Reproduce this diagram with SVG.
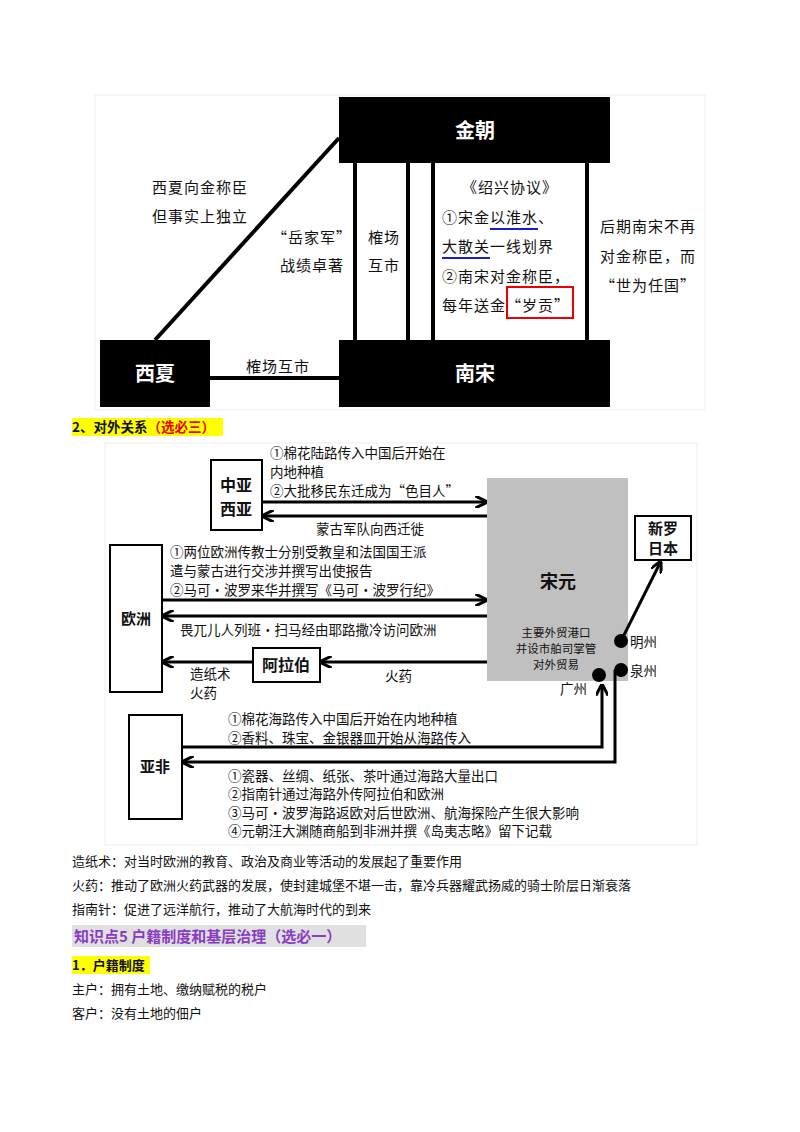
<svg xmlns="http://www.w3.org/2000/svg" width="800" height="1132" viewBox="0 0 800 1132">
<defs>
<marker id="ah" viewBox="0 0 10 10" refX="8" refY="5" markerWidth="4" markerHeight="4" orient="auto-start-reverse"><path d="M0,0 L10,5 L0,10" fill="none" stroke="#000" stroke-width="2.5"/></marker>
</defs>
<style>
text{font-family:"Noto Sans CJK SC","Liberation Sans",sans-serif;fill:#111}
.k{font-size:15px;letter-spacing:1px}
.s{font-size:11.5px}
.w{fill:#fff;font-size:20px;font-weight:bold}
.b{font-weight:bold}
.box{fill:#fff;stroke:#000;stroke-width:2}
.ln{stroke:#000;stroke-width:3;fill:none}
.t{font-size:13.5px}
</style>
<rect width="800" height="1132" fill="#fff"/>
<rect x="95" y="95" width="610" height="315" fill="#fff" stroke="#eee"/>
<g id="jin"><rect x="339" y="97" width="271" height="66" fill="#000"/><text x="475" y="138" text-anchor="middle" class="w">金朝</text></g>
<g id="xixia"><rect x="100" y="340" width="110" height="67" fill="#000"/><text x="155" y="381" text-anchor="middle" class="w">西夏</text></g>
<g id="nansong"><rect x="339" y="340" width="271" height="67" fill="#000"/><text x="475" y="381" text-anchor="middle" class="w">南宋</text></g>
<g id="top-connectors" class="ln">
<line x1="155" y1="340" x2="339" y2="138" stroke-width="4"/>
<line x1="210" y1="378" x2="339" y2="378" stroke-width="4"/>
<line x1="355" y1="163" x2="355" y2="340" stroke-width="4"/>
<line x1="408" y1="163" x2="408" y2="340" stroke-width="4"/>
<line x1="433" y1="163" x2="433" y2="340" stroke-width="4"/>
<line x1="587" y1="163" x2="587" y2="340" stroke-width="4"/>
</g>
<g class="k">
<text x="200" y="193" text-anchor="middle">西夏向金称臣</text>
<text x="200" y="222" text-anchor="middle">但事实上独立</text>
<text x="312" y="243" text-anchor="middle">“岳家军”</text>
<text x="312" y="271" text-anchor="middle">战绩卓著</text>
<text x="384" y="243" text-anchor="middle">榷场</text>
<text x="384" y="271" text-anchor="middle">互市</text>
<text x="510" y="193" text-anchor="middle">《绍兴协议》</text>
<text x="442" y="223">①宋金以淮水、</text>
<text x="442" y="252">大散关一线划界</text>
<text x="442" y="282">②南宋对金称臣，</text>
<text x="442" y="311">每年送金“岁贡”</text>
<text x="648" y="232" text-anchor="middle">后期南宋不再</text>
<text x="648" y="262" text-anchor="middle">对金称臣，而</text>
<text x="648" y="291" text-anchor="middle">“世为任国”</text>
<text x="278" y="372" text-anchor="middle">榷场互市</text>
</g>
<line x1="490" y1="229" x2="538" y2="229" stroke="#1a1ad0" stroke-width="2"/>
<line x1="442" y1="258" x2="490" y2="258" stroke="#1a1ad0" stroke-width="2"/>
<rect x="507" y="287" width="66" height="31" fill="none" stroke="#e00" stroke-width="2"/>

<rect x="72" y="418" width="151" height="18" fill="#ffff00"/>
<text x="72" y="432" font-size="13.5" class="b">2、对外关系<tspan fill="#e00">（选必三）</tspan></text>

<rect x="105" y="443" width="592" height="402" fill="#fff" stroke="#eee"/>
<g id="songyuan"><rect x="487" y="478" width="141" height="203" fill="#c0c0c0"/>
<text x="558" y="588" text-anchor="middle" font-size="18" class="b">宋元</text>
<text x="556" y="637" text-anchor="middle" class="s">主要外贸港口</text>
<text x="556" y="653" text-anchor="middle" class="s">并设市舶司掌管</text>
<text x="556" y="669" text-anchor="middle" class="s">对外贸易</text></g>
<g id="zhongya"><rect x="211" y="460" width="51" height="70" class="box"/><text x="236" y="491" text-anchor="middle" font-size="16" class="b">中亚</text><text x="236" y="515" text-anchor="middle" font-size="16" class="b">西亚</text></g>
<g id="xinluo"><rect x="635" y="516" width="56" height="44" class="box"/><text x="663" y="534" text-anchor="middle" font-size="15" class="b">新罗</text><text x="663" y="554" text-anchor="middle" font-size="15" class="b">日本</text></g>
<g id="ouzhou"><rect x="110" y="545" width="52" height="147" class="box"/><text x="136" y="624" text-anchor="middle" font-size="15" class="b">欧洲</text></g>
<g id="alabo"><rect x="253" y="648" width="67" height="34" class="box"/><text x="286" y="671" text-anchor="middle" font-size="16" class="b">阿拉伯</text></g>
<g id="yafei"><rect x="129" y="715" width="53" height="104" class="box"/><text x="155" y="772" text-anchor="middle" font-size="15" class="b">亚非</text></g>
<g id="ports">
<circle cx="621" cy="641" r="7" fill="#000"/><circle cx="621" cy="670" r="7" fill="#000"/><circle cx="599" cy="675" r="7" fill="#000"/>
<text x="630" y="647" class="t">明州</text><text x="630" y="676" class="t">泉州</text><text x="560" y="694" class="t">广州</text></g>
<g id="connectors" class="ln">
<line x1="262" y1="502" x2="485" y2="502" marker-end="url(#ah)"/>
<line x1="487" y1="516" x2="264" y2="516" marker-end="url(#ah)"/>
<line x1="162" y1="600" x2="485" y2="600" marker-end="url(#ah)"/>
<line x1="487" y1="616" x2="164" y2="616" marker-end="url(#ah)"/>
<line x1="487" y1="662" x2="322" y2="662" marker-end="url(#ah)"/>
<line x1="253" y1="662" x2="164" y2="662" marker-end="url(#ah)"/>
<line x1="621" y1="641" x2="660" y2="563" marker-end="url(#ah)"/>
<polyline points="182,747 602,747 602,686" marker-end="url(#ah)"/>
<polyline points="615,670 615,762 184,762" marker-end="url(#ah)"/>
</g>
<g class="t">
<text x="270" y="458">①棉花陆路传入中国后开始在</text>
<text x="270" y="477">内地种植</text>
<text x="270" y="496">②大批移民东迁成为“色目人”</text>
<text x="370" y="534" text-anchor="middle">蒙古军队向西迁徙</text>
<text x="170" y="557">①两位欧洲传教士分别受教皇和法国国王派</text>
<text x="170" y="576">遣与蒙古进行交涉并撰写出使报告</text>
<text x="170" y="595">②马可·波罗来华并撰写《马可·波罗行纪》</text>
<text x="180" y="635">畏兀儿人列班·扫马经由耶路撒冷访问欧洲</text>
<text x="190" y="679">造纸术</text>
<text x="190" y="698">火药</text>
<text x="385" y="681">火药</text>
<text x="228" y="724">①棉花海路传入中国后开始在内地种植</text>
<text x="228" y="743">②香料、珠宝、金银器皿开始从海路传入</text>
<text x="228" y="781">①瓷器、丝绸、纸张、茶叶通过海路大量出口</text>
<text x="228" y="799">②指南针通过海路外传阿拉伯和欧洲</text>
<text x="228" y="818">③马可·波罗海路返欧对后世欧洲、航海探险产生很大影响</text>
<text x="228" y="836">④元朝汪大渊随商船到非洲并撰《岛夷志略》留下记载</text>
</g>
<g font-size="13">
<text x="72" y="866">造纸术：对当时欧洲的教育、政治及商业等活动的发展起了重要作用</text>
<text x="72" y="890">火药：推动了欧洲火药武器的发展，使封建城堡不堪一击，靠冷兵器耀武扬威的骑士阶层日渐衰落</text>
<text x="72" y="914">指南针：促进了远洋航行，推动了大航海时代的到来</text>
</g>
<rect x="72" y="925" width="294" height="22" fill="#e0e0e0"/>
<text x="74" y="942" font-size="15" class="b" style="fill:#8a3cc4">知识点5 户籍制度和基层治理（选必一）</text>
<rect x="72" y="956" width="78" height="18" fill="#ffff00"/>
<text x="72" y="970" font-size="13" class="b">1．户籍制度</text>
<text x="72" y="994" font-size="13">主户：拥有土地、缴纳赋税的税户</text>
<text x="72" y="1018" font-size="13">客户：没有土地的佃户</text>
</svg>
